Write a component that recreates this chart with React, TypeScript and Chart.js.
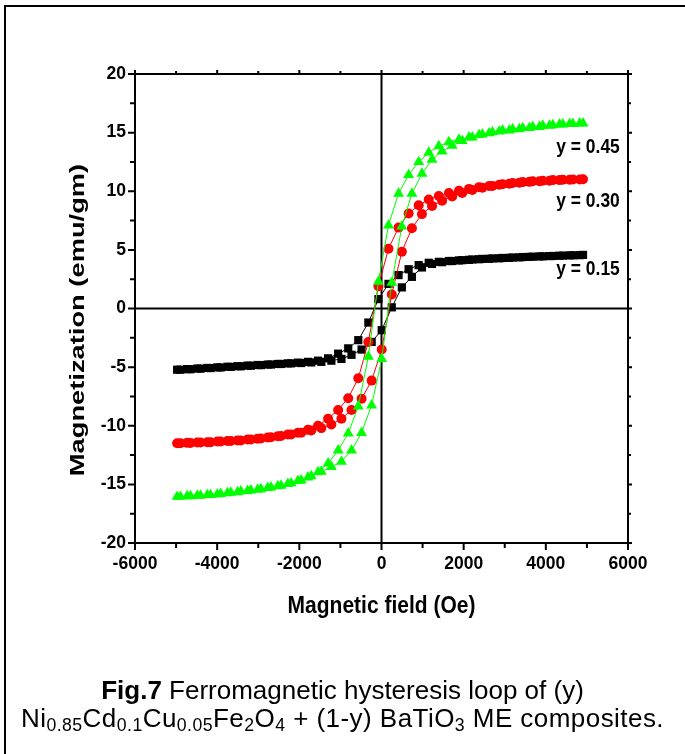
import React, { useEffect, useRef } from "react";
import { Chart, registerables } from "chart.js";

Chart.register(...registerables);

// Field values (Oe): descending branch (+H -> -H) and ascending branch (-H -> +H)
const fieldDown = [4825, 4580, 4335, 4090, 3845, 3600, 3355, 3110, 2865, 2620, 2375, 2130, 1885, 1640, 1395, 1150, 905, 660, 415, 170, -75, -320, -565, -810, -1055, -1300, -1545, -1790, -2035, -2280, -2525, -2770, -3015, -3260, -3505, -3750, -3995, -4240, -4485, -4730, -4975];
const fieldUp = [-4895, -4650, -4405, -4160, -3915, -3670, -3425, -3180, -2935, -2690, -2445, -2200, -1955, -1710, -1465, -1220, -975, -730, -485, -240, 5, 250, 495, 740, 985, 1230, 1475, 1720, 1965, 2210, 2455, 2700, 2945, 3190, 3435, 3680, 3925, 4170, 4415, 4660, 4905];

// Magnetization (emu/gm)
const m045Down = [15.8, 15.75, 15.7, 15.6, 15.5, 15.4, 15.3, 15.2, 15.1, 14.95, 14.8, 14.6, 14.4, 14.2, 13.85, 13.3, 12.5, 11.4, 9.8, 7.1, 2.3, -4.1, -8.35, -10.65, -12.1, -13.2, -13.95, -14.4, -14.7, -14.95, -15.15, -15.3, -15.45, -15.55, -15.65, -15.75, -15.85, -15.9, -15.95, -16.0, -16.05];
const m045Up = [-16.05, -16.0, -15.95, -15.9, -15.8, -15.7, -15.6, -15.5, -15.4, -15.25, -15.1, -14.9, -14.65, -14.3, -13.9, -13.5, -13.05, -12.1, -10.6, -8.25, -4.3, 2.2, 7.0, 9.8, 11.5, 12.7, 13.4, 13.9, 14.3, 14.6, 14.85, 15.05, 15.2, 15.3, 15.4, 15.5, 15.6, 15.65, 15.7, 15.75, 15.8];
const m030Down = [11.0, 10.98, 10.95, 10.9, 10.85, 10.8, 10.72, 10.65, 10.55, 10.45, 10.35, 10.2, 10.05, 9.85, 9.6, 9.3, 8.8, 8.1, 6.9, 5.1, 1.9, -2.85, -5.95, -7.65, -8.65, -9.4, -10.0, -10.35, -10.6, -10.75, -10.9, -11.0, -11.1, -11.18, -11.25, -11.3, -11.35, -11.4, -11.43, -11.46, -11.5];
const m030Up = [-11.5, -11.47, -11.43, -11.4, -11.35, -11.3, -11.25, -11.17, -11.08, -10.98, -10.88, -10.75, -10.6, -10.4, -10.2, -9.9, -9.4, -8.65, -7.7, -6.15, -3.5, 1.2, 4.85, 6.85, 8.05, 8.75, 9.2, 9.55, 9.85, 10.1, 10.3, 10.45, 10.6, 10.7, 10.78, 10.85, 10.9, 10.95, 10.98, 11.0, 11.02];
const m015Down = [4.55, 4.53, 4.5, 4.47, 4.44, 4.4, 4.36, 4.32, 4.28, 4.24, 4.2, 4.15, 4.1, 4.05, 3.98, 3.9, 3.7, 3.35, 2.85, 2.1, 0.8, -1.2, -2.7, -3.4, -3.85, -4.25, -4.45, -4.55, -4.62, -4.68, -4.73, -4.78, -4.82, -4.87, -4.92, -4.97, -5.02, -5.07, -5.12, -5.17, -5.22];
const m015Up = [-5.22, -5.18, -5.13, -5.08, -5.03, -4.98, -4.93, -4.88, -4.83, -4.78, -4.73, -4.68, -4.65, -4.6, -4.55, -4.45, -4.3, -3.95, -3.5, -2.85, -1.85, 0.1, 1.8, 2.7, 3.5, 3.8, 3.95, 4.05, 4.12, 4.18, 4.23, 4.27, 4.31, 4.35, 4.39, 4.42, 4.45, 4.48, 4.51, 4.54, 4.57];

const seriesLabels = ["y = 0.45", "y = 0.30", "y = 0.15"];
const seriesLabelM = [13.77, 9.16, 3.37];
const seriesLabelH = 5800;

const xMajor = [-6000, -4000, -2000, 0, 2000, 4000, 6000];
const xMinor = [-5000, -3000, -1000, 1000, 3000, 5000];
const yMajor = [-20, -15, -10, -5, 0, 5, 10, 15, 20];
const yMinor = [-17.5, -12.5, -7.5, -2.5, 2.5, 7.5, 12.5, 17.5];

const FONT = "'Liberation Sans', Arial, Helvetica, sans-serif";

function loop(down: number[], up: number[]) {
  return fieldDown
    .map((h, i) => ({ x: h, y: down[i] }))
    .concat(fieldUp.map((h, i) => ({ x: h, y: up[i] })));
}

const overlay = {
  id: "overlay",
  beforeDatasetsDraw(chart: any) {
    const { ctx, chartArea: a, scales } = chart;
    const x0 = scales.x.getPixelForValue(0);
    const y0 = scales.y.getPixelForValue(0);
    ctx.save();
    ctx.strokeStyle = "#000";
    ctx.lineWidth = 2;
    ctx.beginPath();
    ctx.moveTo(x0, a.top);
    ctx.lineTo(x0, a.bottom);
    ctx.moveTo(a.left, y0);
    ctx.lineTo(a.right, y0);
    ctx.stroke();
    ctx.restore();
  },
  afterDraw(chart: any) {
    const { ctx, chartArea: a, scales } = chart;
    const sx = scales.x;
    const sy = scales.y;
    ctx.save();
    ctx.strokeStyle = "#000";
    ctx.lineWidth = 2;
    ctx.strokeRect(a.left, a.top, a.right - a.left, a.bottom - a.top);
    ctx.beginPath();
    const tick = (vals: number[], lenOut: number, lenMirror: number) => ({ vals, lenOut, lenMirror });
    const xs = [tick(xMajor, 7, 4), tick(xMinor, 5, 3)];
    xs.forEach((t) => {
      t.vals.forEach((v) => {
        const px = sx.getPixelForValue(v);
        ctx.moveTo(px, a.bottom);
        ctx.lineTo(px, a.bottom + t.lenOut);
        ctx.moveTo(px, a.top);
        ctx.lineTo(px, a.top - t.lenMirror);
      });
    });
    const ys = [tick(yMajor, 7, 4), tick(yMinor, 5, 3)];
    ys.forEach((t) => {
      t.vals.forEach((v) => {
        const py = sy.getPixelForValue(v);
        ctx.moveTo(a.left, py);
        ctx.lineTo(a.left - t.lenOut, py);
        ctx.moveTo(a.right, py);
        ctx.lineTo(a.right + t.lenMirror, py);
      });
    });
    ctx.stroke();

    ctx.fillStyle = "#000";
    // x title
    ctx.font = `bold 21px ${FONT}`;
    ctx.textAlign = "center";
    ctx.textBaseline = "middle";
    ctx.save();
    ctx.translate((a.left + a.right) / 2, 607);
    ctx.scale(1, 1.12);
    ctx.fillText("Magnetic field (Oe)", 0, 0);
    ctx.restore();
    // y title (stretched along its length)
    ctx.save();
    ctx.translate(78, 320);
    ctx.rotate(-Math.PI / 2);
    ctx.scale(1.3, 1);
    ctx.fillText("Magnetization (emu/gm)", 0, 0);
    ctx.restore();
    // series labels
    seriesLabels.forEach((txt, i) => {
      const px = sx.getPixelForValue(seriesLabelH);
      const py = sy.getPixelForValue(seriesLabelM[i]);
      ctx.save();
      ctx.translate(px, py);
      ctx.scale(0.83, 1);
      ctx.textAlign = "right";
      ctx.textBaseline = "middle";
      ctx.font = `bold 21px ${FONT}`;
      ctx.fillText(txt, 0, 0);
      ctx.restore();
    });
    ctx.restore();
  },
};

export default function App() {
  const ref = useRef<HTMLCanvasElement>(null);
  useEffect(() => {
    document.body.style.margin = "0";
    const chart = new Chart(ref.current as HTMLCanvasElement, {
      type: "scatter",
      data: {
        datasets: [
          {
            label: "y = 0.45",
            data: loop(m045Down, m045Up),
            showLine: true,
            borderColor: "#00FF00",
            backgroundColor: "#00FF00",
            borderWidth: 1,
            pointStyle: "triangle",
            pointRadius: 6.3,
            pointBorderWidth: 0,
          },
          {
            label: "y = 0.30",
            data: loop(m030Down, m030Up),
            showLine: true,
            borderColor: "#FF0000",
            backgroundColor: "#FF0000",
            borderWidth: 1,
            pointStyle: "circle",
            pointRadius: 5,
            pointBorderWidth: 0,
          },
          {
            label: "y = 0.15",
            data: loop(m015Down, m015Up),
            showLine: true,
            borderColor: "#000000",
            backgroundColor: "#000000",
            borderWidth: 1,
            pointStyle: "rect",
            pointRadius: 5.8,
            pointBorderWidth: 0,
          },
        ],
      },
      options: {
        responsive: false,
        animation: false,
        devicePixelRatio: 1,
        layout: { padding: { left: 0, top: 74, right: 57, bottom: 171 } },
        plugins: { legend: { display: false }, tooltip: { enabled: false } },
        scales: {
          x: {
            type: "linear",
            min: -6000,
            max: 6000,
            afterBuildTicks: (s: any) => {
              s.ticks = xMajor.map((v) => ({ value: v }));
            },
            afterFit: (s: any) => {
              s.height = 40;
            },
            grid: { display: false, drawTicks: false },
            border: { display: false },
            ticks: {
              color: "#000",
              padding: 11,
              maxRotation: 0,
              autoSkip: false,
              font: { family: FONT, size: 17.5, weight: "bold" },
              callback: (v: any) => String(v),
            },
          },
          y: {
            type: "linear",
            min: -20,
            max: 20,
            afterBuildTicks: (s: any) => {
              s.ticks = yMajor.map((v) => ({ value: v }));
            },
            afterFit: (s: any) => {
              s.width = 135;
            },
            grid: { display: false, drawTicks: false },
            border: { display: false },
            ticks: {
              color: "#000",
              padding: 9,
              autoSkip: false,
              font: { family: FONT, size: 17.5, weight: "bold" },
              callback: (v: any) => String(v),
            },
          },
        },
      },
      plugins: [overlay],
    });
    return () => chart.destroy();
  }, []);

  const sub = { fontSize: "68%", verticalAlign: "-0.25em", lineHeight: 0 } as React.CSSProperties;
  const capStyle: React.CSSProperties = {
    position: "absolute",
    left: 0,
    width: 685,
    textAlign: "center",
    fontFamily: FONT,
    fontSize: 26,
    lineHeight: "28px",
    color: "#000",
    whiteSpace: "nowrap",
  };

  return (
    <div style={{ position: "absolute", left: 0, top: 0, width: 685, height: 754, overflow: "hidden", background: "#fff" }}>
      <div style={{ position: "absolute", left: 4, top: 5, width: 900, height: 900, borderLeft: "2px solid #000", borderTop: "2px solid #000" }} />
      <canvas ref={ref} width={685} height={754} style={{ position: "absolute", left: 0, top: 0, width: 685, height: 754 }} />
      <div style={{ ...capStyle, top: 676 }}>
        <b>Fig.7</b> Ferromagnetic hysteresis loop of (y)
      </div>
      <div style={{ ...capStyle, top: 704, letterSpacing: "0.45px" }}>
        Ni<span style={sub}>0.85</span>Cd<span style={sub}>0.1</span>Cu<span style={sub}>0.05</span>Fe<span style={sub}>2</span>O<span style={sub}>4</span> + (1-y) BaTiO<span style={sub}>3</span> ME composites.
      </div>
    </div>
  );
}
